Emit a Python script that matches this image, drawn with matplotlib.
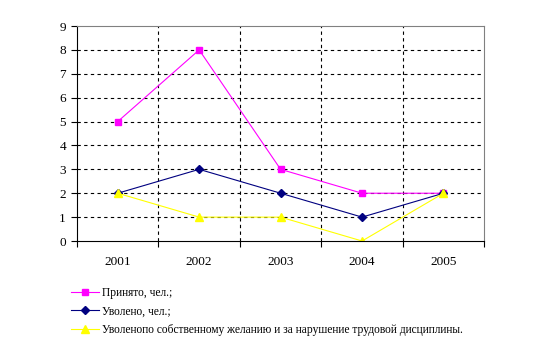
import matplotlib.pyplot as plt
import numpy as np

years = ['2001', '2002', '2003', '2004', '2005']
hired = [5, 8, 3, 2, 2]
fired = [2, 3, 2, 1, 2]
fired_own = [2, 1, 1, 0, 2]

labels = ['Принято, чел.;',
          'Уволено, чел.;',
          'Уволенопо собственному желанию и за нарушение трудовой дисциплины.']

plt.rcParams['font.family'] = ['Liberation Serif', 'DejaVu Serif']
plt.rcParams['font.size'] = 9

fig = plt.figure(figsize=(5.54, 3.44), dpi=100)
ax = fig.add_axes([0.139, 0.2994, 0.735, 0.625])

x = np.arange(len(years))
ax.plot(x, hired, color='#FF00FF', lw=0.8, marker='s', ms=5, label=labels[0])
ax.plot(x, fired, color='#000080', lw=0.8, marker='D', ms=4, label=labels[1])
ax.plot(x, fired_own, color='#FFFF00', lw=0.8, marker='^', ms=6, label=labels[2])

ax.set_xlim(-0.5, 4.5)
ax.set_ylim(0, 9)
ax.set_yticks(range(10))
ax.set_xticks(x)
ax.set_xticklabels(years)
ax.set_xticks(np.arange(-0.5, 5, 1), minor=True)
ax.tick_params(axis='x', which='major', length=0, pad=11, labelsize=9.5)
ax.tick_params(axis='x', which='minor', length=4, width=0.8)
ax.tick_params(axis='y', length=4, width=0.8, pad=4, labelsize=9.5)

for y in range(1, 9):
    ax.axhline(y, color='black', lw=0.8, ls=(0, (3, 3)), zorder=0)
for xb in np.arange(0.5, 4, 1):
    ax.axvline(xb, color='black', lw=0.8, ls=(0, (3, 3)), zorder=0)

for s in ['top', 'right']:
    ax.spines[s].set_color('#808080')
for s in ['left', 'bottom']:
    ax.spines[s].set_color('black')

fig.legend(loc='upper left', bbox_to_anchor=(71 / 554, 1 - 287 / 344),
           frameon=False, borderpad=0, handlelength=2.4, handletextpad=0.3,
           labelspacing=0.55, fontsize=8.3, borderaxespad=0)

fig.savefig('out.png', dpi=100)
